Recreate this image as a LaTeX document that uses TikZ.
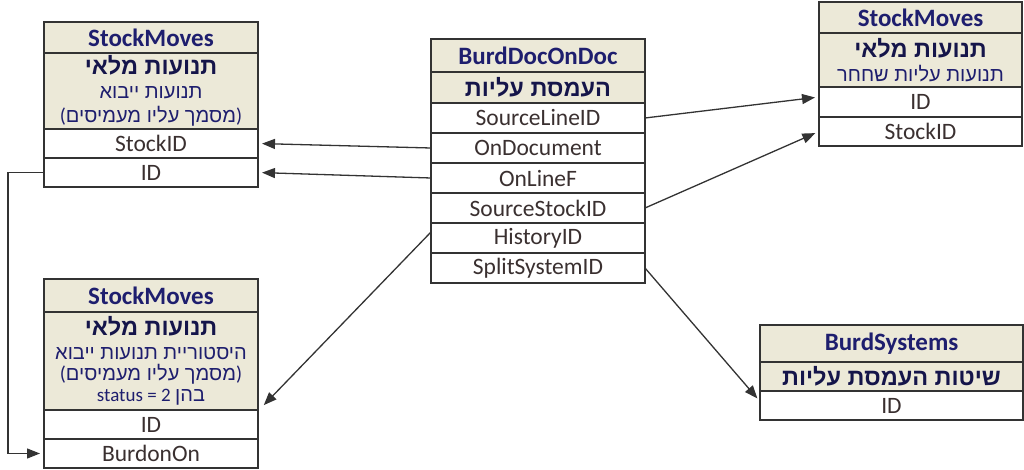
\documentclass[tikz,border=0pt]{standalone}
\usepackage{fontspec}
\setmainfont{Carlito}
\newfontfamily\heb[Script=Hebrew]{Liberation Sans}
\TeXXeTstate=1
\usetikzlibrary{arrows.meta}
\definecolor{beige}{HTML}{ECE9D8}
\definecolor{navy}{HTML}{1E1E6E}
\definecolor{hebc}{HTML}{15154A}
\definecolor{ink}{HTML}{333333}
\definecolor{fieldc}{HTML}{3A3030}
\newcommand{\hb}[1]{{\heb\beginR #1\endR}}
\newcommand{\hbt}[1]{{\heb\bfseries\fontsize{23.5}{26}\selectfont\color{hebc}\beginR #1\endR}}
\begin{document}
\begin{tikzpicture}[x=1pt,y=-1pt,
  cell/.style={draw=ink, line width=1.3pt, inner sep=0pt, outer sep=0pt, anchor=north west, align=center},
  hdr/.style={cell, fill=beige, text=navy, font=\fontsize{25}{27}\selectfont\bfseries},
  hebsec/.style={cell, fill=beige, text=navy, font=\fontsize{20}{24}\selectfont},
  fld/.style={cell, fill=white, text=fieldc, font=\fontsize{23.5}{26}\selectfont},
  arr/.style={draw=ink, line width=1.3pt, -{Triangle[length=13pt,width=10pt]}, shorten >=4pt}
]
\useasboundingbox (0,0) rectangle (1024,470);
% left top
\node[hdr, minimum width=214, minimum height=31] (lt0) at (44,22) {StockMoves};
\node[hebsec, minimum width=214, minimum height=76] (lt1) at (44,53) {\hbt{תנועות מלאי}\\ \hb{תנועות ייבוא}\\ (\hb{מסמך עליו מעמיסים})};
\node[fld, minimum width=214, minimum height=29] (lt2) at (44,129) {StockID};
\node[fld, minimum width=214, minimum height=29] (lt3) at (44,158) {ID};
% center
\node[hdr, minimum width=214, minimum height=33] (c0) at (431,39) {BurdDocOnDoc};
\node[hebsec, minimum width=214, minimum height=31] (c1) at (431,72) {\hbt{העמסת עליות}};
\node[fld, minimum width=214, minimum height=30] (c2) at (431,103) {SourceLineID};
\node[fld, minimum width=214, minimum height=30] (c3) at (431,133) {OnDocument};
\node[fld, minimum width=214, minimum height=30] (c4) at (431,163) {OnLineF};
\node[fld, minimum width=214, minimum height=30] (c5) at (431,193) {SourceStockID};
\node[fld, minimum width=214, minimum height=30] (c6) at (431,223) {HistoryID};
\node[fld, minimum width=214, minimum height=30] (c7) at (431,253) {SplitSystemID};
% right top
\node[hdr, minimum width=203, minimum height=31] (r0) at (819,2) {StockMoves};
\node[hebsec, minimum width=203, minimum height=54] (r1) at (819,33) {\hbt{תנועות מלאי}\\ \hb{תנועות עליות שחחר}};
\node[fld, minimum width=203, minimum height=30] (r2) at (819,87) {ID};
\node[fld, minimum width=203, minimum height=29] (r3) at (819,117) {StockID};
% left bottom
\node[hdr, minimum width=214, minimum height=33] (b0) at (44,279) {StockMoves};
\node[hebsec, minimum width=214, minimum height=98, font=\fontsize{20}{21}\selectfont] (b1) at (44,312) {\hbt{תנועות מלאי}\\[3pt] \hb{היסטוריית תנועות ייבוא}\\ (\hb{מסמך עליו מעמיסים})\\ {\fontsize{19}{21}\selectfont status = 2} \hb{בהן}};
\node[fld, minimum width=214, minimum height=29] (b2) at (44,410) {ID};
\node[fld, minimum width=214, minimum height=29] (b3) at (44,439) {BurdonOn};
% BurdSystems
\node[hdr, minimum width=263, minimum height=37] (s0) at (760,325) {BurdSystems};
\node[hebsec, minimum width=263, minimum height=29] (s1) at (760,362) {\hbt{שיטות העמסת עליות}};
\node[fld, minimum width=263, minimum height=29] (s2) at (760,391) {ID};
% connectors
\draw[arr] (c3.west) -- (lt2.east);
\draw[arr] (c4.west) -- (lt3.east);
\draw[arr] ([yshift=6pt]c6.west) -- ([xshift=3pt,yshift=2pt]b1.south east);
\draw[arr] (c2.east) -- ([yshift=5pt]r2.west);
\draw[arr] (c5.east) -- (r3.west);
\draw[arr] (c7.east) -- ([yshift=4pt]s2.west);
\draw[arr] (lt3.west) -- ++(-36,0) |- (b3.west);
\end{tikzpicture}
\end{document}
